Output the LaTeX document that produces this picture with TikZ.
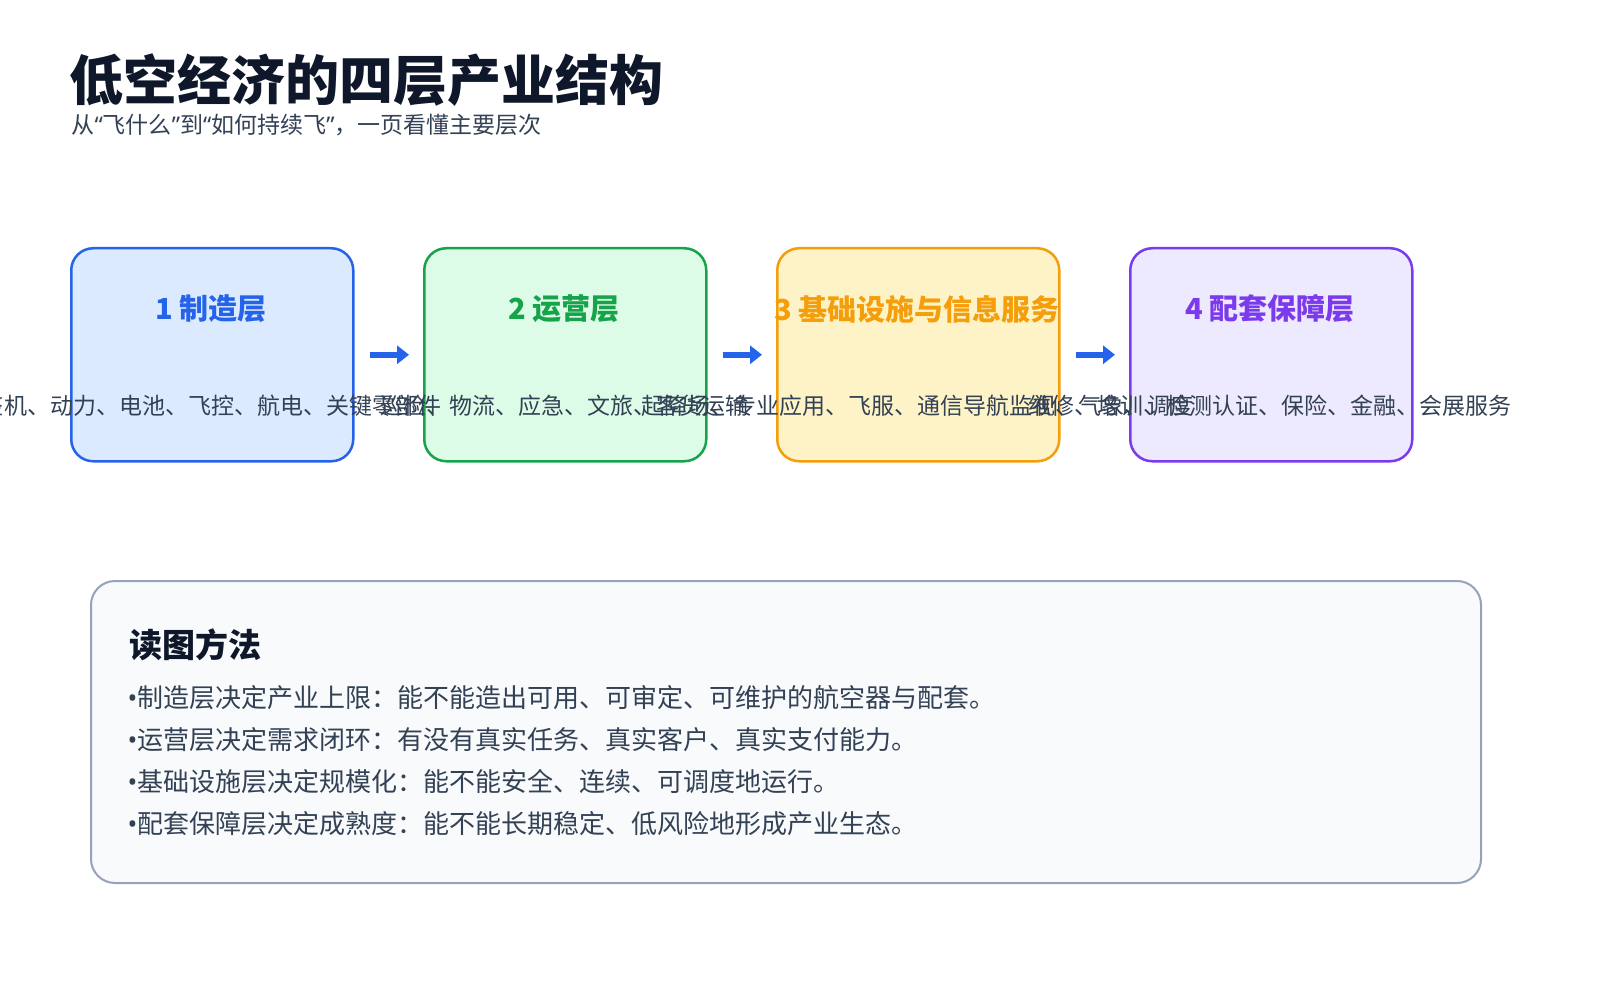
\documentclass[tikz,border=0pt]{standalone}
\usepackage{fontspec}
\setmainfont{Noto Sans CJK SC}
\newfontfamily\lat{Noto Sans}
\usetikzlibrary{arrows.meta}
\definecolor{ink}{HTML}{0F172A}
\definecolor{txt}{HTML}{334155}
\definecolor{cA}{HTML}{2563EB}\definecolor{fA}{HTML}{DBEAFE}
\definecolor{cB}{HTML}{16A34A}\definecolor{fB}{HTML}{DCFCE7}
\definecolor{cC}{HTML}{F59E0B}\definecolor{fC}{HTML}{FEF3C7}
\definecolor{cD}{HTML}{7C3AED}\definecolor{fD}{HTML}{EDE9FE}
\definecolor{pb}{HTML}{94A3B8}\definecolor{pf}{HTML}{F8FAFC}
\newcommand{\latq}[1]{{\lat#1}}
\tikzset{
 layer/.style={draw=#1,line width=2.5pt,rounded corners=22pt,minimum width=282pt,minimum height=213pt,anchor=north west},
 head/.style={font=\fontsize{29}{31}\selectfont\bfseries,text=#1},
 desc/.style={font=\fontsize{23}{25}\selectfont,text=txt},
 flow/.style={-{Triangle[length=12pt,width=18pt]},line width=6pt,draw=cA},
 bul/.style={font=\fontsize{26}{28}\selectfont,text=txt,anchor=west}
}
\begin{document}
\begin{tikzpicture}[x=1pt,y=-1pt]
\useasboundingbox (0,0) rectangle (1600,1000);
\fill[white] (0,0) rectangle (1600,1000);
\node[anchor=west,font=\fontsize{54}{58}\selectfont\bfseries,text=ink] (title) at (66,80) {低空经济的四层产业结构};
\node[anchor=west,font=\fontsize{23}{25}\selectfont,text=txt] (sub) at (68,125) {从\latq{“}飞什么\latq{”}到\latq{“}如何持续飞\latq{”}，一页看懂主要层次};
\node[layer=cA,fill=fA] (b1) at (70,247) {};
\node[layer=cB,fill=fB] (b2) at (423,247) {};
\node[layer=cC,fill=fC] (b3) at (776,247) {};
\node[layer=cD,fill=fD] (b4) at (1129,247) {};
\node[head=cA] (h1) at (211,309) {1 制造层};
\node[head=cB] (h2) at (564,309) {2 运营层};
\node[head=cC] (h3) at (917,309) {3 基础设施与信息服务};
\node[head=cD] (h4) at (1270,309) {4 配套保障层};
\node[desc] (d1) at (211,406) {整机、动力、电池、飞控、航电、关键零部件};
\node[desc] (d2) at (564,406) {巡检、物流、应急、文旅、客货运输};
\node[desc] (d3) at (917,406) {起降场、专业应用、飞服、通信导航监视、气象、调度};
\node[desc] (d4) at (1270,406) {维修、培训、检测认证、保险、金融、会展服务};
\draw[flow] (b1.east)++(15,0) -- ([xshift=-14pt]b2.west);
\draw[flow] (b2.east)++(15,0) -- ([xshift=-14pt]b3.west);
\draw[flow] (b3.east)++(15,0) -- ([xshift=-14pt]b4.west);
\node[draw=pb,line width=2pt,fill=pf,rounded corners=24pt,minimum width=1390pt,minimum height=302pt,anchor=north west] (panel) at (90,580) {};
\node[anchor=west,font=\fontsize{33}{35}\selectfont\bfseries,text=ink] (ph) at (126,645) {读图方法};
\node[bul] (l1) at (124,698) {{\lat\bfseries•}制造层决定产业上限：能不能造出可用、可审定、可维护的航空器与配套。};
\node[bul] (l2) at (124,740) {{\lat\bfseries•}运营层决定需求闭环：有没有真实任务、真实客户、真实支付能力。};
\node[bul] (l3) at (124,782) {{\lat\bfseries•}基础设施层决定规模化：能不能安全、连续、可调度地运行。};
\node[bul] (l4) at (124,824) {{\lat\bfseries•}配套保障层决定成熟度：能不能长期稳定、低风险地形成产业生态。};
\end{tikzpicture}
\end{document}
